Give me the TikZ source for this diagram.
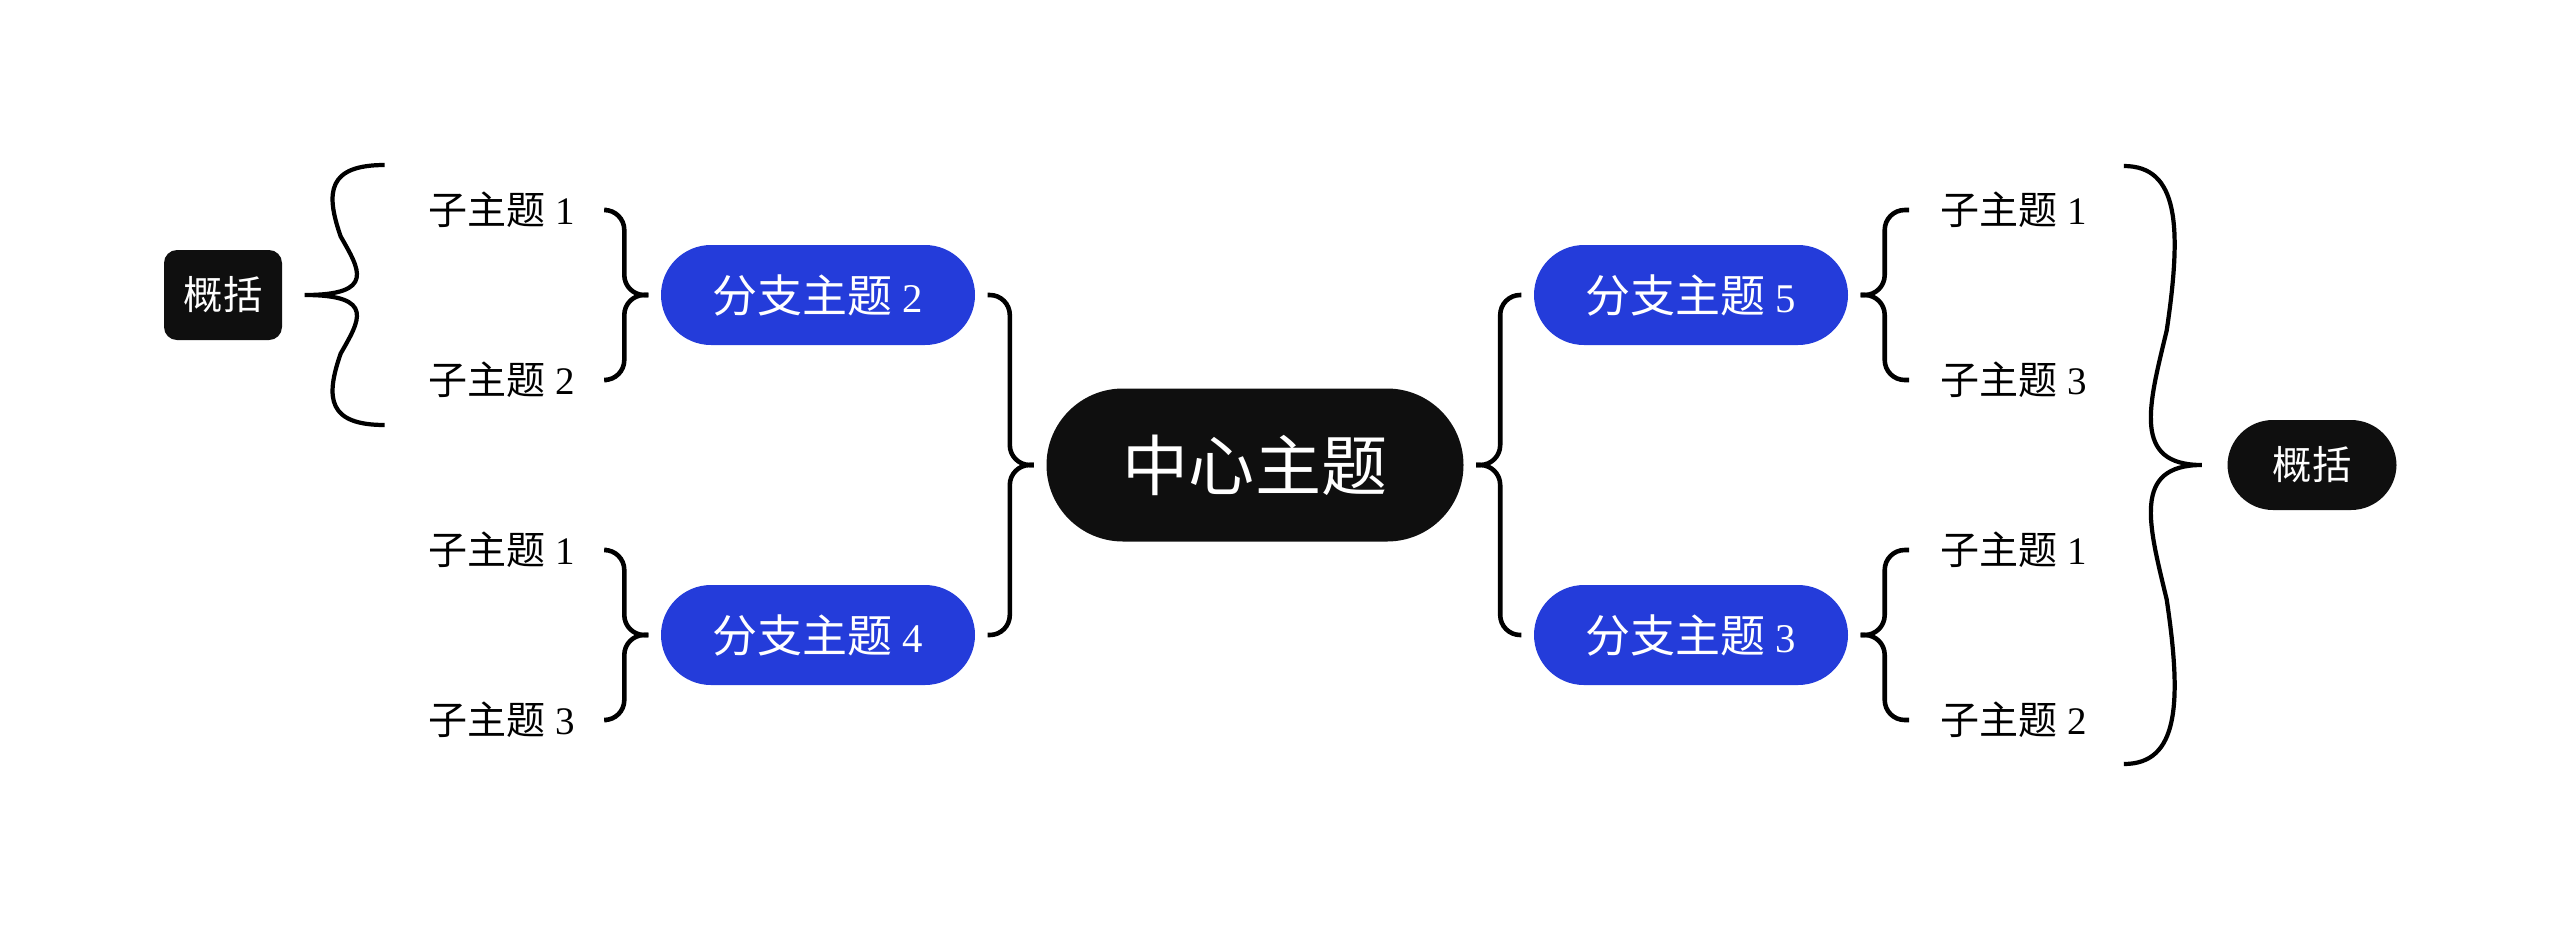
\documentclass[tikz,border=0pt]{standalone}
\usepackage{fontspec}
\setmainfont{Liberation Serif}
\newfontfamily\cjk{Noto Sans CJK SC}
\usetikzlibrary{calc}
\definecolor{branchblue}{RGB}{36,60,218}
\definecolor{nearblack}{RGB}{15,15,15}
\tikzset{
    topic/.style={fill=nearblack, text=white, font=\cjk\fontsize{18.8}{22}\selectfont,
        minimum width=4.17cm, minimum height=1.53cm, rounded corners=0.765cm},
    branch/.style={fill=branchblue, text=white, font=\cjk\fontsize{12.8}{15}\selectfont,
        minimum width=3.14cm, minimum height=1cm, rounded corners=0.5cm},
    subtopic/.style={font=\fontsize{11.1}{13}\selectfont, inner xsep=0.19cm},
    sumnode/.style={fill=nearblack, text=white, font=\cjk\fontsize{11.2}{13}\selectfont,
        minimum height=0.9cm},
    brc/.style={line width=1.3pt, rounded corners=0.2cm},
    sumbrc/.style={line width=1.2pt},
}
\newcommand\num[1]{{\rmfamily\fontsize{11.6}{13}\selectfont #1}}
\begin{document}
\begin{tikzpicture}
    \useasboundingbox (0,0) rectangle (25.6,-9.29);
    % centre and branches
    \node[topic] (c) at (12.55,-4.65) {中心主题};
    \node[branch] (b2) at (8.18,-2.95) {分支主题 \num{2}};
    \node[branch] (b4) at (8.18,-6.35) {分支主题 \num{4}};
    \node[branch] (b5) at (16.91,-2.95) {分支主题 \num{5}};
    \node[branch] (b3) at (16.91,-6.35) {分支主题 \num{3}};
    % sub topics
    \node[subtopic, anchor=west] (s21) at (4.09,-2.10) {{\cjk 子主题} 1};
    \node[subtopic, anchor=west] (s22) at (4.09,-3.80) {{\cjk 子主题} 2};
    \node[subtopic, anchor=west] (s41) at (4.09,-5.50) {{\cjk 子主题} 1};
    \node[subtopic, anchor=west] (s43) at (4.09,-7.20) {{\cjk 子主题} 3};
    \node[subtopic, anchor=west] (s51) at (19.21,-2.10) {{\cjk 子主题} 1};
    \node[subtopic, anchor=west] (s53) at (19.21,-3.80) {{\cjk 子主题} 3};
    \node[subtopic, anchor=west] (s31) at (19.21,-5.50) {{\cjk 子主题} 1};
    \node[subtopic, anchor=west] (s32) at (19.21,-7.20) {{\cjk 子主题} 2};
    % summaries
    \node[sumnode, minimum width=1.18cm, rounded corners=0.13cm] (sl) at (2.23,-2.95) {概括};
    \node[sumnode, minimum width=1.69cm, rounded corners=0.455cm] (sr) at (23.12,-4.65) {概括};
    % braces
    \foreach \p/\a/\b in {c/b2/b4, b2/s21/s22, b4/s41/s43}
        \foreach \k in {\a,\b}
            \draw[brc] ($(\p.west)+(-.12,0)$) -- ++(-.24,0) |- ($(\k.east)+(.12,0)$);
    \foreach \p/\a/\b in {c/b5/b3, b5/s51/s53, b3/s31/s32}
        \foreach \k in {\a,\b}
            \draw[brc] ($(\p.east)+(.12,0)$) -- ++(.24,0) |- ($(\k.west)+(-.12,0)$);
    % summary braces
    \coordinate (tl) at ($(sl.east)+(.22,0)$);
    \coordinate (tr) at ($(sr.west)+(-.25,0)$);
    \begin{scope}[shift={(tl)}, xscale=.8, yscale=1.3]
        \draw[sumbrc] (1,1) .. controls (.3,1) and (.25,.8) .. (.45,.45)
            .. controls (.68,.2) and (.9,0) .. (0,0)
            .. controls (.9,0) and (.68,-.2) .. (.45,-.45)
            .. controls (.25,-.8) and (.3,-1) .. (1,-1);
    \end{scope}
    \begin{scope}[shift={(tr)}, xscale=-.78, yscale=2.99]
        \draw[sumbrc] (1,1) .. controls (.3,1) and (.25,.8) .. (.45,.45)
            .. controls (.68,.2) and (.9,0) .. (0,0)
            .. controls (.9,0) and (.68,-.2) .. (.45,-.45)
            .. controls (.25,-.8) and (.3,-1) .. (1,-1);
    \end{scope}
\end{tikzpicture}
\end{document}
